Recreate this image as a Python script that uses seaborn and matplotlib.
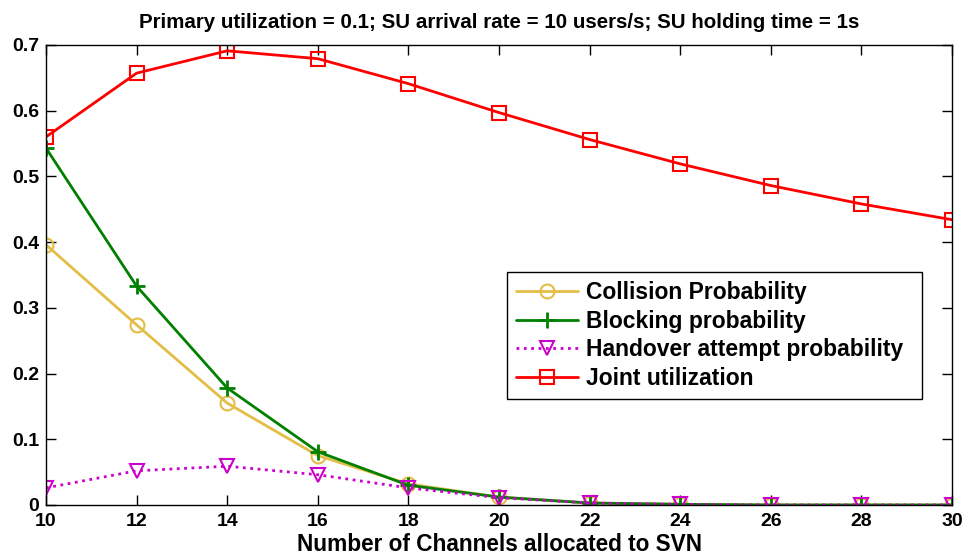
import seaborn as sns
import matplotlib.pyplot as plt
import numpy as np
import pandas as pd

# data
channels = [10, 12, 14, 16, 18, 20, 22, 24, 26, 28, 30]
collision = [0.396, 0.274, 0.155, 0.075, 0.032, 0.012, 0.003, 0.001, 0.0, 0.0, 0.0]
blocking = [0.543, 0.333, 0.178, 0.081, 0.030, 0.012, 0.003, 0.001, 0.0, 0.0, 0.0]
handover = [0.026, 0.052, 0.059, 0.046, 0.026, 0.011, 0.003, 0.001, 0.0, 0.0, 0.0]
joint = [0.560, 0.657, 0.691, 0.679, 0.641, 0.597, 0.556, 0.519, 0.486, 0.458, 0.434]

names = ['Collision Probability', 'Blocking probability',
         'Handover attempt probability', 'Joint utilization']
series = [collision, blocking, handover, joint]

sns.set_style('ticks')
plt.rcParams['font.family'] = ['Liberation Sans', 'DejaVu Sans']
plt.rcParams['font.weight'] = 'bold'
for key in ['text.color', 'axes.labelcolor', 'xtick.color', 'ytick.color', 'axes.edgecolor']:
    plt.rcParams[key] = 'black'

fig = plt.figure(figsize=(9.66, 5.57), dpi=100)
ax = fig.add_axes([0.0476, 0.0934, 0.938, 0.826])

styles = {
    'Collision Probability': dict(color='#e3bd45', marker='o', ls='-', ms=10, mfc='none', mew=1.5),
    'Blocking probability': dict(color='#008000', marker='+', ls='-', ms=11, mew=2),
    'Handover attempt probability': dict(color='#cc00cc', marker='v', ls=':', ms=10, mfc='none', mew=1.5),
    'Joint utilization': dict(color='#ff0000', marker='s', ls='-', ms=10, mfc='none', mew=1.5),
}

df = pd.DataFrame({'x': channels * 4,
                   'y': sum(series, []),
                   'name': sum([[n] * len(channels) for n in names], [])})

for n in names:
    st = styles[n]
    sns.lineplot(data=df[df['name'] == n], x='x', y='y', ax=ax, label=n,
                 color=st['color'], marker=st['marker'], linestyle=st['ls'],
                 markersize=st['ms'], markerfacecolor=st.get('mfc', st['color']),
                 markeredgecolor=st['color'], markeredgewidth=st['mew'], linewidth=2)

ax.set_xlim(10, 30)
ax.set_ylim(0, 0.7)
ax.set_xticks(np.arange(10, 31, 2))
ax.set_yticks(np.arange(0, 0.71, 0.1))
ax.set_yticklabels(['0', '0.1', '0.2', '0.3', '0.4', '0.5', '0.6', '0.7'])
ax.tick_params(direction='in', top=True, right=True, length=7, labelsize=14, width=1)
ax.tick_params(axis='x', pad=6)
ax.tick_params(axis='y', pad=5)
for lab in ax.get_xticklabels() + ax.get_yticklabels():
    lab.set_fontweight('bold')
for sp in ax.spines.values():
    sp.set_linewidth(1)
    sp.set_color('black')

ax.set_xlabel('Number of Channels allocated to SVN', fontsize=16.3, fontweight='bold', labelpad=2)
ax.set_ylabel('')
ax.set_title('Primary utilization = 0.1; SU arrival rate = 10 users/s; SU holding time = 1s',
             fontsize=14.8, fontweight='bold', pad=12)

leg = ax.legend(loc='lower left', bbox_to_anchor=(0.509, 0.23, 0.458, 0.276), mode='expand',
                fancybox=False, edgecolor='black', framealpha=1, fontsize=16.5,
                handlelength=2.7, handletextpad=0.35, borderaxespad=0, labelspacing=0.25,
                borderpad=0.4)
leg.get_frame().set_linewidth(1)
for t in leg.get_texts():
    t.set_fontweight('bold')
    t.set_color('black')

fig.savefig('out.png', dpi=100)
